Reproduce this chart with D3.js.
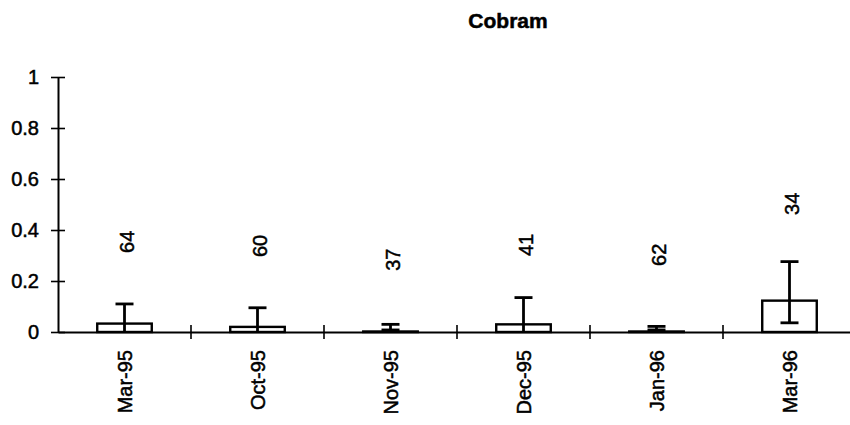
<!DOCTYPE html>
<html>
<head>
<meta charset="utf-8">
<script src="https://cdn.jsdelivr.net/npm/d3@7"></script>
<style>
  body { margin: 0; background: #fff; }
  svg { display: block; font-family: "Liberation Sans", Arial, sans-serif; }
  svg text { stroke: #000; stroke-width: 0.5px; fill: #000; }
</style>
</head>
<body>
<div id="chart"></div>
<script>
const categories = ["Mar-95", "Oct-95", "Nov-95", "Dec-95", "Jan-96", "Mar-96"];
const means = [0.033, 0.02, 0.002, 0.03, 0.002, 0.123];
const upper = [0.11, 0.095, 0.03, 0.135, 0.022, 0.276];
const lower = [0, 0, 0.008, 0, 0.008, 0.036];
const counts = [64, 60, 37, 41, 62, 34];
const countAt = [0.31, 0.294, 0.24, 0.298, 0.259, 0.459];
const yTicks = [0, 0.2, 0.4, 0.6, 0.8, 1];

const width = 850, height = 425;
const svg = d3.select("#chart").append("svg")
  .attr("width", width)
  .attr("height", height);

const x = d3.scaleBand().domain(categories).range([58, 856]).padding(0);
const y = d3.scaleLinear().domain([0, 1]).range([332, 77]);
const bw = x.bandwidth() * 0.41;
const capW = 18;

// title
svg.append("text")
  .attr("x", 508).attr("y", 28)
  .attr("text-anchor", "middle")
  .style("font-size", "21px").style("font-weight", "bold")
  .text("Cobram");

// y axis
const yAxis = svg.append("g")
  .attr("transform", "translate(58,0)")
  .call(d3.axisLeft(y).tickValues(yTicks).tickFormat(d3.format("")).tickSize(0).tickPadding(19));
yAxis.select(".domain").attr("stroke", "#000").attr("stroke-width", 2);
yAxis.selectAll(".tick text").style("font-size", "20px");
yAxis.selectAll(".tick").append("line")
  .attr("x1", -7).attr("x2", 7)
  .attr("stroke", "#000").attr("stroke-width", 1.6);

// x axis
const xAxis = svg.append("g")
  .attr("transform", `translate(0,${y(0)})`)
  .call(d3.axisBottom(x).tickSize(0).tickSizeOuter(0));
xAxis.select(".domain").attr("stroke", "#000").attr("stroke-width", 2);
xAxis.selectAll(".tick text")
  .style("font-size", "20px")
  .attr("text-anchor", "end")
  .attr("transform", "rotate(-90)")
  .attr("x", -18).attr("y", 0).attr("dy", "0.36em");

// category separators
svg.append("g").selectAll("line")
  .data(categories.slice(1))
  .join("line")
  .attr("x1", d => x(d)).attr("x2", d => x(d))
  .attr("y1", y(0) - 7).attr("y2", y(0) + 7)
  .attr("stroke", "#000").attr("stroke-width", 1.6);

const cx = d => x(d) + x.bandwidth() / 2;

// bars
svg.append("g").selectAll("rect")
  .data(categories)
  .join("rect")
  .attr("x", d => cx(d) - bw / 2)
  .attr("y", (d, i) => y(means[i]))
  .attr("width", bw)
  .attr("height", (d, i) => y(0) - y(means[i]))
  .attr("fill", "#fff")
  .attr("stroke", "#000")
  .attr("stroke-width", 2.4);

// error bars
const err = svg.append("g").attr("stroke", "#000").attr("stroke-width", 2.8);
categories.forEach((c, i) => {
  const lo = Math.max(0, lower[i]);
  err.append("line")
    .attr("x1", cx(c)).attr("x2", cx(c))
    .attr("y1", y(upper[i])).attr("y2", y(lo));
  err.append("line")
    .attr("x1", cx(c) - capW / 2).attr("x2", cx(c) + capW / 2)
    .attr("y1", y(upper[i])).attr("y2", y(upper[i]));
  if (lower[i] > 0) {
    err.append("line")
      .attr("x1", cx(c) - capW / 2).attr("x2", cx(c) + capW / 2)
      .attr("y1", y(lower[i])).attr("y2", y(lower[i]));
  }
});

// sample counts
svg.append("g").selectAll("text")
  .data(categories)
  .join("text")
  .attr("transform", (d, i) => `translate(${cx(d) + 2},${y(countAt[i])}) rotate(-90)`)
  .attr("dy", "0.36em")
  .style("font-size", "20px")
  .text((d, i) => counts[i]);
</script>
</body>
</html>
